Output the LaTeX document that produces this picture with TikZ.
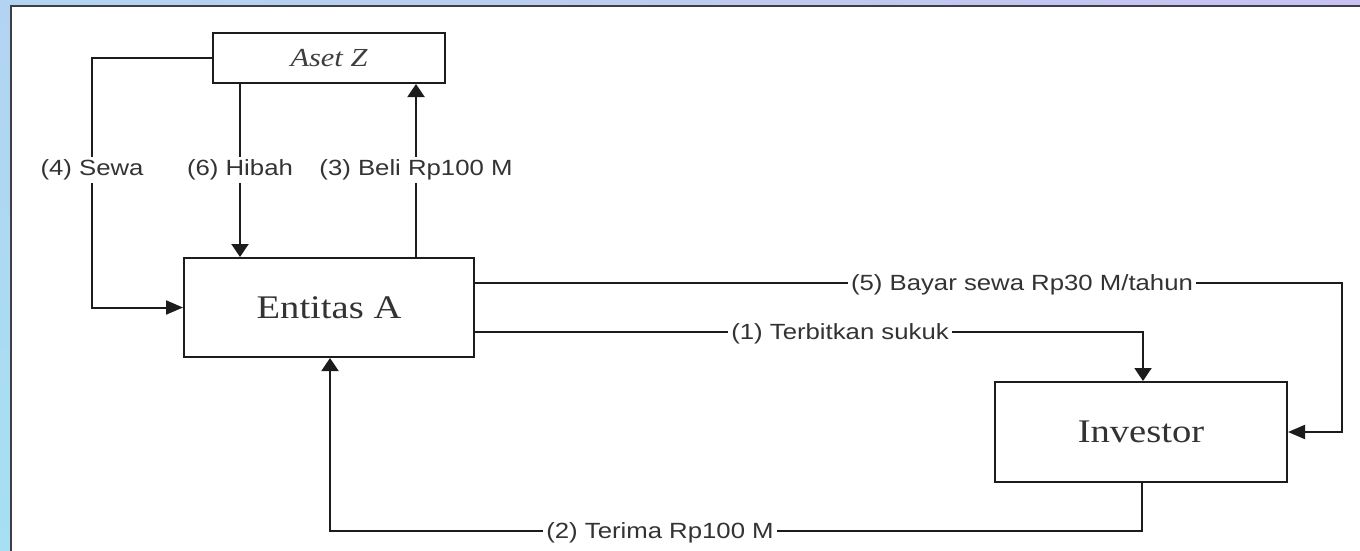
\documentclass[tikz,border=0pt]{standalone}
\usepackage{fontspec}
\setmainfont{Liberation Serif}
\newfontfamily\labfont[FakeStretch=1.17]{Liberation Sans}
\newfontfamily\boxfont[FakeStretch=1.17]{Liberation Serif}
\usetikzlibrary{arrows.meta,shadings}
\definecolor{ink}{HTML}{1C1C1C}
\definecolor{bgA}{HTML}{B2D4F2}
\definecolor{bgB}{HTML}{C8C2F2}
\definecolor{bgC}{HTML}{A6E0F2}
\definecolor{bgD}{HTML}{BCCAF2}
\definecolor{frame}{HTML}{3E3E44}
\tikzset{
  box/.style={draw=ink, line width=2pt, fill=white, inner sep=0pt},
  conn/.style={draw=ink, line width=2pt},
  arrv/.style={conn, -{Triangle[length=13pt,width=17pt]}},
  arrh/.style={conn, -{Triangle[length=17pt,width=14pt]}},
  lbl/.style={fill=white, inner xsep=3pt, inner ysep=3pt, font=\labfont\fontsize{22}{26}\selectfont, text=ink!90},
  big/.style={font=\boxfont\fontsize{33}{38}\selectfont, text=ink!90},
}
\begin{document}
\begin{tikzpicture}[x=1pt, y=-1pt]
\useasboundingbox (0,0) rectangle (1360,550);
% background frame
\shade[upper left=bgA, upper right=bgB, lower left=bgC, lower right=bgD] (0,0) rectangle (1360,550);
\fill[gray!40] (13,8) rectangle (1365,560);
\fill[white] (12,7) rectangle (1365,560);
\draw[frame, line width=2.6pt] (11,560) -- (11,6) -- (1365,6);
% nodes
\node[box, minimum width=232pt, minimum height=50pt, font=\boxfont\itshape\fontsize{26}{30}\selectfont, text=ink!85] (aset) at (329,58) {Aset Z};
\node[box, big, minimum width=290pt, minimum height=99pt] (ent) at (329,307.5) {Entitas A};
\node[box, big, minimum width=292pt, minimum height=100pt] (inv) at (1141,432) {Investor};
% helper coordinates
\coordinate (sx) at (92,0);
\coordinate (hx) at (240,0);
\coordinate (bx) at (416,0);
\coordinate (r5) at (1342,283);
\coordinate (r1) at (1143,332);
\coordinate (r2) at (1142,531);
\coordinate (l2) at (330,531);
% connectors
\draw[arrh] (aset.west) -| (sx |- ent.west) -- (ent.west);
\draw[arrv] (aset.south -| hx) -- (ent.north -| hx);
\draw[arrv] (ent.north -| bx) -- (aset.south -| bx);
\draw[arrh] (r5 -| ent.east) -- (r5) |- (inv.east);
\draw[arrv] (r1 -| ent.east) -- (r1) -- (r1 |- inv.north);
\draw[arrv] (r2 |- inv.south) -- (r2) -- (l2) -- (l2 |- ent.south);
% labels
\node[lbl] (t4) at (92,170) {(4) Sewa};
\node[lbl] (t6) at (240,170) {(6) Hibah};
\node[lbl] (t3) at (416,170) {(3) Beli Rp100 M};
\node[lbl] (t5) at (1022,285) {(5) Bayar sewa Rp30 M/tahun};
\node[lbl] (t1) at (840,334) {(1) Terbitkan sukuk};
\node[lbl] (t2) at (660,533) {(2) Terima Rp100 M};
\end{tikzpicture}
\end{document}
